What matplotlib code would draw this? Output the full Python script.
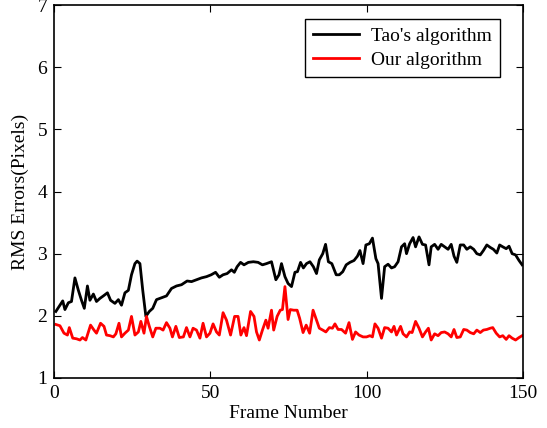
import numpy as np
import matplotlib
matplotlib.use('Agg')
import matplotlib.pyplot as plt

plt.rcParams['font.family'] = ['Liberation Serif', 'DejaVu Serif']

# Tao's algorithm (frame, rms error)
tao_x = [0.6, 2.8, 3.5, 4.6, 5.6, 6.7, 7.8, 8.8, 9.7, 10.7, 11.5, 12.6, 13.6, 14.7,
         15.8, 17.1, 18.1, 19.5, 20.6, 21.6, 22.7, 23.8, 24.8, 25.9, 26.6, 27.5,
         28.4, 29.4, 30.5, 31.6, 32.8, 34.4, 36.0, 37.6, 39.2, 40.8, 42.6, 44.0,
         45.6, 47.2, 48.8, 50.3, 51.7, 52.9, 54.1, 55.4, 56.8, 57.7, 58.6, 59.7,
         60.8, 62.2, 63.8, 65.3, 66.7, 68.0, 69.6, 71.0, 72.0, 72.8, 73.9, 74.9,
         76.0, 77.1, 77.9, 78.9, 79.8, 80.8, 81.9, 83.0, 84.0, 84.9, 86.0, 86.9,
         87.8, 88.9, 90.3, 91.3, 92.4, 93.5, 94.7, 96.0, 97.1, 97.9, 98.9, 99.8,
         100.9, 101.9, 103.0, 103.7, 104.8, 105.8, 106.9, 108.0, 109.0, 110.1,
         111.2, 112.2, 112.8, 113.8, 114.9, 115.7, 116.8, 117.9, 118.9, 120.0,
         120.7, 121.8, 122.9, 123.9, 125.0, 126.1, 127.1, 128.0, 128.9, 130.0,
         131.1, 132.1, 133.2, 134.3, 135.3, 136.4, 137.4, 138.5, 139.6, 140.6,
         141.7, 142.6, 143.6, 144.7, 145.6, 146.6, 147.7, 148.8, 149.8]
tao_y = [2.07, 2.24, 2.10, 2.21, 2.23, 2.61, 2.41, 2.25, 2.12, 2.48, 2.25, 2.35, 2.23, 2.28,
         2.32, 2.37, 2.25, 2.20, 2.26, 2.17, 2.37, 2.41, 2.66, 2.84, 2.88, 2.84,
         2.41, 1.99, 2.07, 2.12, 2.26, 2.29, 2.32, 2.44, 2.48, 2.50, 2.56, 2.55,
         2.58, 2.61, 2.63, 2.66, 2.70, 2.62, 2.66, 2.68, 2.74, 2.70, 2.79, 2.86,
         2.82, 2.86, 2.87, 2.86, 2.82, 2.84, 2.87, 2.58, 2.66, 2.84, 2.63, 2.52,
         2.47, 2.70, 2.71, 2.86, 2.77, 2.84, 2.87, 2.79, 2.68, 2.90, 3.00, 3.15,
         2.87, 2.84, 2.66, 2.66, 2.71, 2.82, 2.86, 2.89, 2.96, 3.05, 2.84, 3.14,
         3.16, 3.25, 2.92, 2.84, 2.28, 2.79, 2.83, 2.77, 2.79, 2.87,
         3.11, 3.16, 3.00, 3.16, 3.26, 3.11, 3.27, 3.15, 3.14, 2.82,
         3.11, 3.15, 3.07, 3.15, 3.11, 3.07, 3.15, 2.96, 2.86, 3.14,
         3.14, 3.07, 3.11, 3.07, 3.00, 2.98, 3.05, 3.14, 3.10, 3.07,
         3.01, 3.14, 3.11, 3.08, 3.12, 3.00, 2.98, 2.89, 2.82]

# Our algorithm (frame, rms error)
our_x = [0.6, 1.9, 3.2, 4.3, 4.9, 6.0, 7.2, 8.3, 9.1, 10.2, 11.7, 12.8, 13.6, 14.9,
         16.0, 16.8, 17.9, 19.0, 19.8, 20.8, 21.6, 22.7, 23.8, 24.8, 25.9, 27.0,
         27.8, 28.8, 29.6, 30.5, 31.6, 32.6, 33.9, 34.9, 36.0, 37.1, 37.9, 39.0,
         40.1, 41.4, 42.4, 43.5, 44.5, 45.6, 46.7, 47.7, 48.8, 49.9, 50.9, 52.0,
         52.9, 54.1, 55.2, 56.5, 57.8, 58.9, 59.8, 60.8, 61.6, 62.9, 64.0, 64.8,
         65.7, 66.7, 67.8, 68.5, 69.6, 70.3, 71.4, 72.4, 73.1, 73.9, 74.9, 75.6,
         76.7, 77.8, 78.6, 79.7, 80.7, 81.8, 82.9, 84.0, 84.9, 86.0, 87.0, 88.1,
         89.1, 89.9, 90.9, 92.0, 93.3, 94.4, 95.5, 96.5, 97.6, 98.9, 100.0, 101.1,
         101.9, 102.7, 103.7, 104.8, 105.8, 106.9, 108.0, 108.8, 109.6, 110.9,
         111.7, 112.8, 113.8, 114.6, 115.7, 116.8, 117.9, 118.9, 119.8, 120.7,
         121.8, 122.9, 123.9, 125.0, 126.1, 127.1, 128.0, 128.9, 130.0, 131.1,
         132.1, 133.2, 134.3, 135.3, 136.4, 137.4, 138.5, 139.6, 140.4, 141.5,
         142.6, 143.6, 144.7, 145.6, 146.6, 147.7, 148.8, 149.8]
our_y = [1.86, 1.84, 1.72, 1.69, 1.81, 1.64, 1.63, 1.61, 1.65, 1.61, 1.85, 1.77, 1.72, 1.88,
         1.83, 1.69, 1.68, 1.66, 1.71, 1.88, 1.66, 1.72, 1.77, 1.99, 1.69, 1.74,
         1.91, 1.72, 1.99, 1.83, 1.66, 1.80, 1.80, 1.77, 1.89, 1.80, 1.66, 1.83,
         1.65, 1.66, 1.81, 1.66, 1.80, 1.77, 1.64, 1.88, 1.66, 1.72, 1.87, 1.74,
         1.69, 2.05, 1.93, 1.69, 1.99, 1.99, 1.69, 1.81, 1.68, 2.07, 1.99, 1.74,
         1.61, 1.77, 1.93, 1.80, 2.09, 1.77, 1.99, 2.09, 2.10, 2.47, 1.94, 2.10,
         2.09, 2.09, 1.96, 1.73, 1.85, 1.72, 2.09, 1.93, 1.80, 1.77, 1.74, 1.81,
         1.80, 1.87, 1.78, 1.78, 1.72, 1.89, 1.62, 1.74, 1.69, 1.66, 1.66, 1.68,
         1.66, 1.87, 1.80, 1.64, 1.81, 1.80, 1.74, 1.83, 1.69, 1.83,
         1.71, 1.66, 1.74, 1.73, 1.91, 1.80, 1.66, 1.74, 1.80, 1.61,
         1.71, 1.68, 1.73, 1.74, 1.71, 1.66, 1.78, 1.65, 1.66, 1.78,
         1.77, 1.73, 1.71, 1.77, 1.73, 1.77, 1.78, 1.80, 1.81, 1.72,
         1.66, 1.68, 1.62, 1.68, 1.64, 1.61, 1.65, 1.68]

fig = plt.figure(figsize=(5.47, 4.28), dpi=100)
ax = fig.add_axes([0.0987, 0.117, 0.857, 0.871])

ax.plot(tao_x, tao_y, color='black', lw=2, label="Tao's algorithm")
ax.plot(our_x, our_y, color='red', lw=2, label='Our algorithm')

ax.set_xlim(0, 150)
ax.set_ylim(1, 7)
ax.set_xticks([0, 50, 100, 150])
ax.set_yticks(range(1, 8))
ax.tick_params(direction='in', top=True, right=True, labelsize=14, length=5, pad=5)
for s in ax.spines.values():
    s.set_linewidth(1.2)

ax.set_xlabel('Frame Number', fontsize=14, labelpad=2)
ax.set_ylabel('RMS Errors(Pixels)', fontsize=14, labelpad=6)

leg = ax.legend(loc='upper right', bbox_to_anchor=(0.951, 0.962), borderaxespad=0,
                fontsize=14, fancybox=False, edgecolor='black', framealpha=1,
                handlelength=2.4, labelspacing=0.35, borderpad=0.4, handletextpad=0.6)
leg.get_frame().set_linewidth(1.0)

fig.savefig('out.png', dpi=100)
